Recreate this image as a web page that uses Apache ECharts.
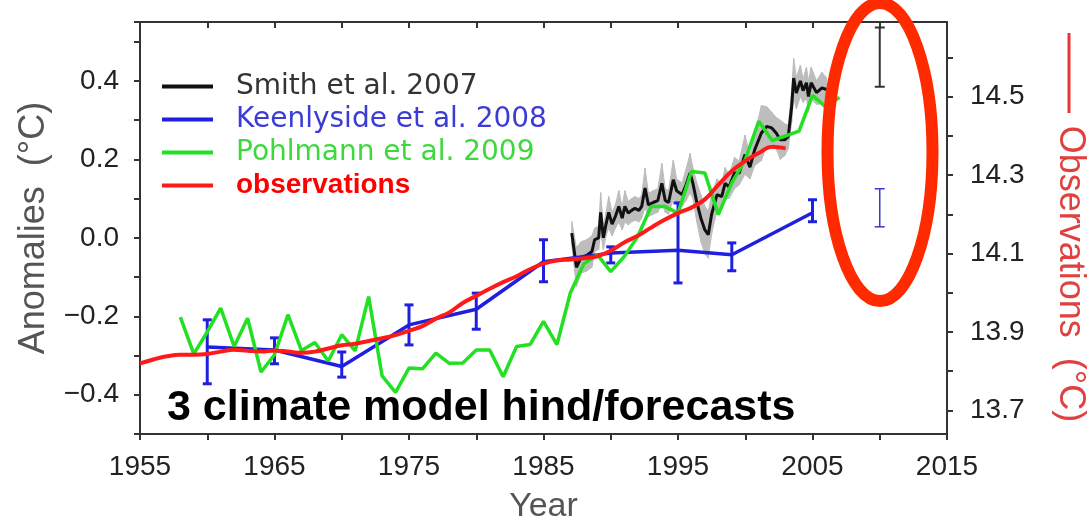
<!DOCTYPE html>
<html><head><meta charset="utf-8">
<script src="https://cdn.jsdelivr.net/npm/echarts@6/dist/echarts.min.js"></script>
<style>html,body{margin:0;padding:0;background:#fff}#c{width:1090px;height:519px}</style>
</head><body><div id="c"></div>
<script>
// ---------- data ----------
const xTickLabels = [1955, 1965, 1975, 1985, 1995, 2005, 2015];
const leftTickLabels = [-0.4, -0.2, 0.0, 0.2, 0.4];
const rightTickLabels = [13.7, 13.9, 14.1, 14.3, 14.5];

// observations (anomaly, left axis), yearly from 1955
const obsStartYear = 1955;
const obsValues = [-0.320,-0.310,-0.302,-0.298,-0.298,-0.296,-0.290,-0.285,-0.288,-0.290,
  -0.287,-0.290,-0.293,-0.290,-0.282,-0.274,-0.270,-0.263,-0.256,-0.248,
  -0.237,-0.225,-0.206,-0.190,-0.166,-0.148,-0.130,-0.113,-0.098,-0.080,
  -0.066,-0.058,-0.055,-0.052,-0.047,-0.033,-0.012,0.005,0.026,0.046,
  0.063,0.077,0.098,0.135,0.170,0.196,0.216,0.232,0.228];

// Pohlmann et al. 2009, yearly from 1958
const pohlStartYear = 1958;
const pohlValues = [-0.202,-0.296,-0.240,-0.179,-0.277,-0.205,-0.342,-0.298,-0.196,-0.287,
  -0.267,-0.314,-0.247,-0.288,-0.150,-0.352,-0.394,-0.332,-0.334,-0.294,
  -0.320,-0.319,-0.286,-0.286,-0.354,-0.277,-0.272,-0.213,-0.272,-0.140,
  -0.066,-0.043,-0.086,-0.048,0.003,0.080,0.080,0.063,0.169,0.165,
  0.059,0.140,0.199,0.297,0.248,0.260,0.272,0.363,0.333,0.358];

// Keenlyside et al. 2008 hindcasts with error bars
const keenYears = [1960,1965,1970,1975,1980,1985,1990,1995,1999,2005];
const keenMean  = [-0.278,-0.286,-0.328,-0.222,-0.182,-0.061,-0.039,-0.032,-0.043,0.064];
const keenLow   = [-0.372,-0.321,-0.355,-0.273,-0.233,-0.112,-0.064,-0.115,-0.084,0.041];
const keenHigh  = [-0.209,-0.255,-0.291,-0.171,-0.141,-0.005,-0.023,0.089,-0.013,0.097];

// Smith et al. 2007 hindcast (with grey spread)
const smithYears = [1987.1,1987.45,1987.8,1988.2,1988.6,1988.8,1989.1,1989.25,1989.45,1989.65,
  1989.85,1990.1,1990.35,1990.6,1990.85,1991.05,1991.3,1991.55,1991.8,1992.1,
  1992.3,1992.55,1992.8,1993.15,1993.5,1993.8,1994.05,1994.3,1994.65,1994.9,
  1995.3,1995.6,1995.9,1996.1,1996.4,1996.7,1997.0,1997.25,1997.5,1997.9,
  1998.25,1998.5,1998.8,1999.2,1999.55,1999.98,2000.35,2000.7,2001.2,2001.6,
  2001.97,2002.3,2002.6,2002.95,2003.2,2003.45,2003.6,2003.8,2004.1,2004.3,
  2004.55,2004.7,2004.9,2005.3,2005.7,2006.05];
const smithValues = [0.012,-0.075,-0.05,-0.045,-0.035,-0.005,0.0,0.065,0.0,0.035,
  0.065,0.035,0.055,0.08,0.05,0.08,0.063,0.07,0.075,0.07,
  0.08,0.127,0.084,0.09,0.095,0.139,0.095,0.09,0.148,0.12,
  0.11,0.135,0.165,0.14,0.09,0.05,0.02,0.008,0.06,0.11,
  0.105,0.139,0.13,0.165,0.165,0.212,0.18,0.224,0.267,0.284,
  0.28,0.267,0.25,0.25,0.258,0.335,0.407,0.369,0.4,0.375,
  0.395,0.36,0.395,0.37,0.382,0.378];
const smithSpread = [0.03,0.05,0.04,0.04,0.04,0.03,0.03,0.05,0.03,0.03,
  0.04,0.03,0.03,0.04,0.03,0.04,0.03,0.03,0.03,0.03,
  0.03,0.05,0.03,0.03,0.03,0.05,0.03,0.03,0.05,0.03,
  0.03,0.04,0.05,0.04,0.05,0.06,0.06,0.06,0.05,0.04,
  0.03,0.04,0.03,0.04,0.03,0.05,0.03,0.04,0.07,0.05,
  0.04,0.04,0.05,0.04,0.03,0.04,0.05,0.04,0.04,0.03,
  0.04,0.04,0.04,0.03,0.04,0.03];

// forecasts for 2010 (error bars only)
const forecastYear = 2010;
const smithForecast = [0.385, 0.536];
const keenForecast = [0.028, 0.125];

// ---------- build series data ----------
const obsData = obsValues.map((v, i) => [obsStartYear + i, v]);
const pohlData = pohlValues.map((v, i) => [pohlStartYear + i, v]);
const keenData = keenYears.map((y, i) => [y, keenMean[i]]);
const keenErr = keenYears.map((y, i) => [y, keenLow[i], keenHigh[i]]);
const smithData = smithYears.map((y, i) => [y, smithValues[i]]);
const bandData = [];
for (let i = 0; i < smithYears.length - 1; i++) {
  bandData.push([smithYears[i], smithValues[i] - smithSpread[i], smithValues[i] + smithSpread[i],
                 smithYears[i+1], smithValues[i+1] - smithSpread[i+1], smithValues[i+1] + smithSpread[i+1]]);
}

function errRender(color, width, cap) {
  return function (params, api) {
    const x = api.value(0);
    const lo = api.coord([x, api.value(1)]);
    const hi = api.coord([x, api.value(2)]);
    const st = { stroke: color, lineWidth: width };
    return { type: 'group', children: [
      { type: 'line', shape: { x1: lo[0], y1: lo[1], x2: hi[0], y2: hi[1] }, style: st },
      { type: 'line', shape: { x1: hi[0] - cap, y1: hi[1], x2: hi[0] + cap, y2: hi[1] }, style: st },
      { type: 'line', shape: { x1: lo[0] - cap, y1: lo[1], x2: lo[0] + cap, y2: lo[1] }, style: st }
    ]};
  };
}
function bandRender(params, api) {
  const a = api.coord([api.value(0), api.value(1)]);
  const b = api.coord([api.value(3), api.value(4)]);
  const c = api.coord([api.value(3), api.value(5)]);
  const d = api.coord([api.value(0), api.value(2)]);
  return { type: 'polygon', shape: { points: [a, b, c, d] },
    style: { fill: '#bdbdbd', stroke: '#bdbdbd', lineWidth: 1 } };
}

const FONT = 'Liberation Sans';
const axisLineStyle = { color: '#333', width: 2 };

function leftFmt(v) {
  const hit = leftTickLabels.find(t => Math.abs(t - v) < 1e-6);
  if (hit === undefined) return '';
  if (Math.abs(hit) < 1e-9) return '0.0';
  return (hit < 0 ? '\u2212' : '') + Math.abs(hit).toFixed(1);
}
function rightFmt(v) {
  const hit = rightTickLabels.find(t => Math.abs(t - v) < 1e-6);
  return hit === undefined ? '' : hit.toFixed(1);
}
function xFmt(v) {
  return xTickLabels.indexOf(Math.round(v)) >= 0 && Math.abs(v - Math.round(v)) < 1e-6 ? String(Math.round(v)) : '';
}

// plot box geometry (pixels)
const G = { left: 140, right: 143, top: 22, bottom: 85 };
const H = 519 - G.top - G.bottom;
const yMin = -0.5, yMax = 0.55;
const obsOffset = 14.14;               // observations (°C) = anomaly + offset
const rMin = 13.7, rMax = 14.6;        // right-axis tick range
const pxPerUnit = H / (yMax - yMin);
const g2top = G.top + (yMax + obsOffset - rMax) * pxPerUnit;
const g2bottom = G.bottom + (rMin - (yMin + obsOffset)) * pxPerUnit;

const chart = echarts.init(document.getElementById('c'), null, { renderer: 'canvas' });
chart.setOption({
  animation: false,
  backgroundColor: '#fff',
  grid: [
    { left: G.left, right: G.right, top: G.top, bottom: G.bottom, containLabel: false, outerBoundsMode: 'none' },
    { left: G.left, right: G.right, top: g2top, bottom: g2bottom, containLabel: false, outerBoundsMode: 'none' }
  ],
  legend: {
    orient: 'vertical', left: 157, top: 65, itemWidth: 51, itemHeight: 4, itemGap: 0,
    icon: 'rect', selectedMode: false,
    textStyle: { fontSize: 28, lineHeight: 33, fontFamily: 'DejaVu Sans', padding: [0, 0, 0, 18] },
    data: [
      { name: 'Smith et al. 2007', textStyle: { color: '#333' } },
      { name: 'Keenlyside et al. 2008', textStyle: { color: '#3b3bd6' } },
      { name: 'Pohlmann et al. 2009', textStyle: { color: '#3cd83c' } },
      { name: 'observations', textStyle: { color: '#ff0000', fontWeight: 'bold', fontFamily: FONT, fontSize: 28 } }
    ]
  },
  xAxis: [
    { type: 'value', gridIndex: 0, min: 1955, max: 2015, interval: 5, position: 'bottom',
      axisLine: { onZero: false, lineStyle: axisLineStyle },
      axisTick: { inside: false, length: 6, lineStyle: axisLineStyle },
      axisLabel: { formatter: xFmt, fontSize: 28, color: '#222', fontFamily: FONT, margin: 19 },
      splitLine: { show: false },
      name: 'Year', nameLocation: 'middle', nameGap: 56,
      nameTextStyle: { fontSize: 34, color: '#555', fontFamily: FONT } },
    { type: 'value', gridIndex: 0, min: 1955, max: 2015, interval: 5, position: 'top',
      axisLine: { onZero: false, lineStyle: axisLineStyle },
      axisTick: { inside: true, length: 6, lineStyle: axisLineStyle },
      axisLabel: { show: false }, splitLine: { show: false } },
    { type: 'value', gridIndex: 1, min: 1955, max: 2015, show: false }
  ],
  yAxis: [
    { type: 'value', gridIndex: 0, min: yMin, max: yMax, interval: 0.1, position: 'left',
      axisLine: { show: true, onZero: false, lineStyle: axisLineStyle },
      axisTick: { show: true, inside: false, length: 6, lineStyle: axisLineStyle },
      axisLabel: { formatter: leftFmt, fontSize: 28, color: '#222', fontFamily: FONT, margin: 21 },
      splitLine: { show: false },
      name: 'Anomalies  (\u00b0C)', nameLocation: 'middle', nameRotate: 90, nameGap: 88,
      nameTextStyle: { fontSize: 36, color: '#555', fontFamily: FONT } },
    { type: 'value', gridIndex: 0, min: yMin, max: yMax, position: 'right',
      axisLine: { show: true, onZero: false, lineStyle: axisLineStyle },
      axisTick: { show: false }, axisLabel: { show: false }, splitLine: { show: false } },
    { type: 'value', gridIndex: 1, min: rMin, max: rMax, interval: 0.1, position: 'right',
      axisLine: { show: false },
      axisTick: { show: true, inside: false, length: 6, lineStyle: axisLineStyle },
      axisLabel: { formatter: rightFmt, fontSize: 28, color: '#222', fontFamily: FONT, margin: 23 },
      splitLine: { show: false } }
  ],
  series: [
    { name: 'band', type: 'custom', renderItem: bandRender, data: bandData,
      encode: { x: [0, 3], y: [1, 2, 4, 5] }, z: 1, silent: true },
    { name: 'Smith et al. 2007', type: 'line', data: smithData, symbol: 'none',
      lineStyle: { color: '#111', width: 3 }, itemStyle: { color: '#111' }, z: 2 },
    { name: 'Keenlyside et al. 2008', type: 'line', data: keenData, symbol: 'none',
      lineStyle: { color: '#1f1fe0', width: 3.5 }, itemStyle: { color: '#1f1fe0' }, z: 3 },
    { name: 'keenErr', type: 'custom', renderItem: errRender('#1f1fe0', 3, 4.5), data: keenErr,
      encode: { x: 0, y: [1, 2] }, z: 3, silent: true },
    { name: 'Pohlmann et al. 2009', type: 'line', data: pohlData, symbol: 'none',
      lineStyle: { color: '#22e022', width: 3.5 }, itemStyle: { color: '#22e022' }, z: 4 },
    { name: 'observations', type: 'line', data: obsData, symbol: 'none', smooth: 0.4,
      lineStyle: { color: '#ff1a1a', width: 4 }, itemStyle: { color: '#ff1a1a' }, z: 5 },
    { name: 'smithForecast', type: 'custom', renderItem: errRender('#333', 2, 5),
      data: [[forecastYear, smithForecast[0], smithForecast[1]]], encode: { x: 0, y: [1, 2] }, z: 5, silent: true },
    { name: 'keenForecast', type: 'custom', renderItem: errRender('#3a3ad0', 1.5, 5),
      data: [[forecastYear, keenForecast[0], keenForecast[1]]], encode: { x: 0, y: [1, 2] }, z: 5, silent: true }
  ],
  graphic: [
    { type: 'text', x: 167, y: 408, z: 50,
      style: { text: '3 climate model hind/forecasts', fontSize: 43, fontWeight: 'bold', fontFamily: FONT,
               fill: '#000', align: 'left', verticalAlign: 'middle' } },
    { type: 'line', shape: { x1: 1069, y1: 33, x2: 1069, y2: 113 }, style: { stroke: '#e83535', lineWidth: 3 }, z: 50 },
    { type: 'text', x: 1070, y: 274, rotation: -Math.PI / 2, z: 50,
      style: { text: 'Observations  (\u00b0C)', fontSize: 36, fontFamily: FONT, fill: '#e04040',
               align: 'center', verticalAlign: 'middle' } },
    { type: 'ellipse', shape: { cx: 880, cy: 152, rx: 52.5, ry: 149 }, z: 100,
      style: { fill: 'transparent', stroke: '#ff2a00', lineWidth: 12 } }
  ]
});
</script></body></html>
